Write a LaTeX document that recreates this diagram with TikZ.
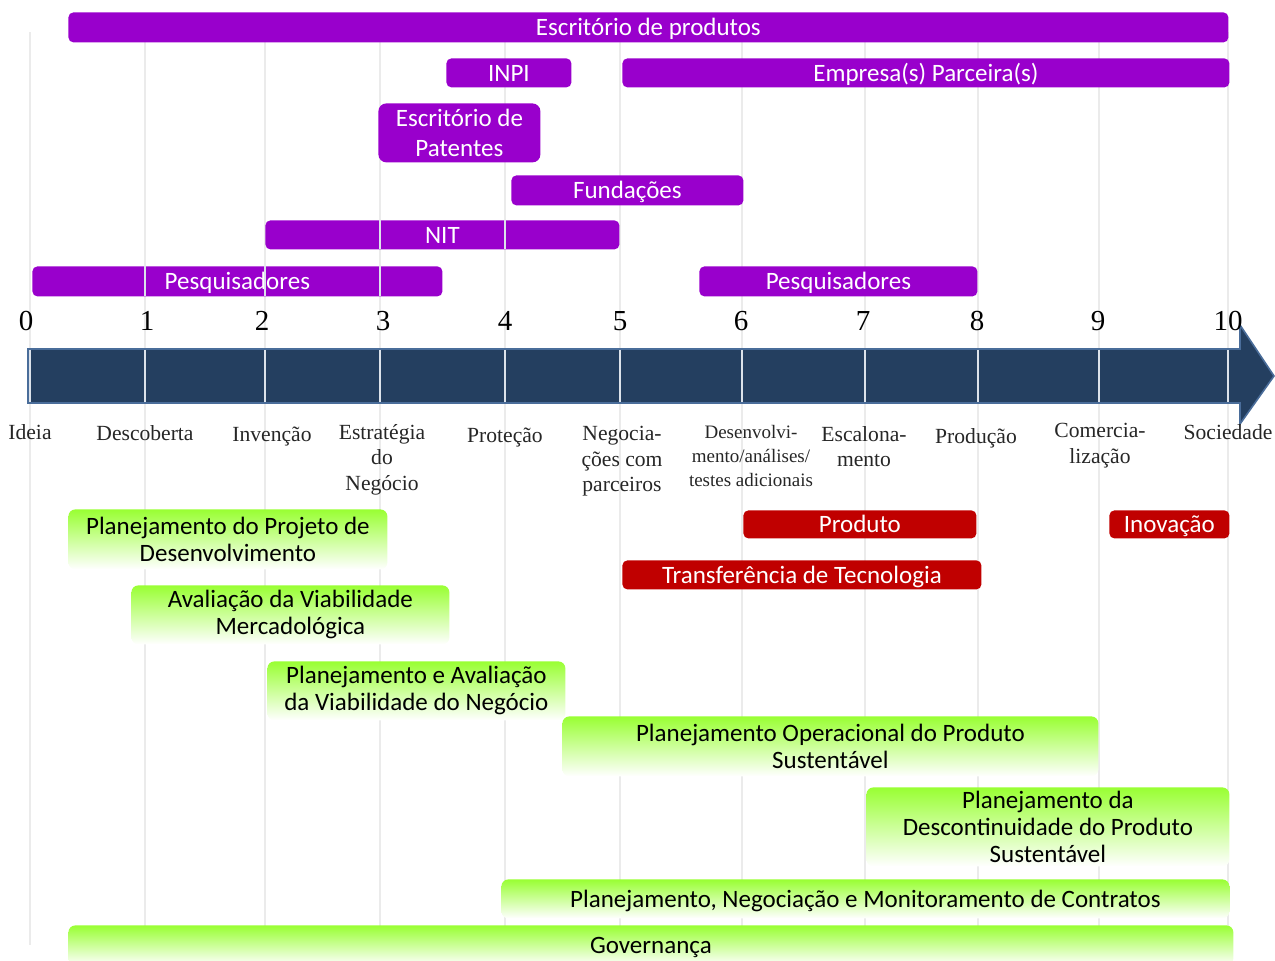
\documentclass[tikz,border=0pt]{standalone}
\usepackage{fontspec}
\newfontfamily\boxfont{Carlito}
\newfontfamily\labfont{Liberation Serif}
\definecolor{actor}{HTML}{9900CC}
\definecolor{result}{HTML}{C00000}
\definecolor{plan}{HTML}{99FF33}
\definecolor{axis}{HTML}{243F60}
\definecolor{axisedge}{HTML}{4A6D9A}
\definecolor{gridc}{HTML}{EBEBEB}
\definecolor{gridlight}{HTML}{DCE2EA}
\definecolor{labc}{HTML}{262626}
\tikzset{
  box/.style={anchor=north west, inner sep=0pt, align=center,
    font={\boxfont\fontsize{12.5}{13.5}\selectfont}},
  oneline/.style={text height=11pt, text depth=2.5pt},
  actorbox/.style={box, fill=actor, text=white, rounded corners=2.5pt},
  resultbox/.style={box, oneline, fill=result, text=white, rounded corners=2.5pt},
  planbox/.style={box, top color=plan, middle color=plan!78!white,
    bottom color=white, text=black, rounded corners=3.5pt},
  tick/.style={font={\labfont\fontsize{14.5}{14.5}\selectfont}, text=black, inner sep=0pt},
  stage/.style={font={\labfont\fontsize{10.8}{12.75}\selectfont}, text=labc,
    align=center, anchor=north, inner sep=0pt},
  smallstage/.style={stage, font={\labfont\fontsize{9.5}{12}\selectfont}},
  gridline/.style={draw=gridc, line width=0.75pt},
  overline/.style={draw=gridlight, line width=0.7pt},
}
\begin{document}
\begin{tikzpicture}[x=0.5pt, y=-0.5pt]
\useasboundingbox (0,0) rectangle (1275,961);

% vertical grid of the time scale
\foreach \x in {30,145,265,380,505,620,742,865,978,1099,1228}
  \draw[gridline] (\x,32) -- (\x,945);

% time axis arrow
\filldraw[fill=axis, draw=axisedge, line width=0.8pt]
  (28,349) -- (1240,349) -- (1240,325) -- (1274,376) -- (1240,424)
  -- (1240,403) -- (28,403) -- cycle;
\foreach \x in {30,145,265,380,505,620,742,865,978,1099,1228}
  \draw[overline] (\x,350) -- (\x,402);

% actors
\node[actorbox, oneline, minimum width=580pt, minimum height=15pt] (escprod) at (68,12) {Escritório de produtos};
\node[actorbox, oneline, minimum width=62.5pt, minimum height=14.5pt] (inpi) at (446,58) {INPI};
\node[actorbox, oneline, minimum width=303.5pt, minimum height=14.5pt] (empresa) at (622,58) {Empresa(s) Parceira(s)};
\node[actorbox, minimum width=81pt, minimum height=29.5pt, rounded corners=4pt,
  font={\boxfont\fontsize{12.5}{15}\selectfont}] (patentes) at (378,103) {Escritório de\\Patentes};
\node[actorbox, oneline, minimum width=116pt, minimum height=15pt] (fundacoes) at (511,175) {Fundações};
\node[actorbox, oneline, minimum width=177pt, minimum height=14.5pt] (nit) at (265,220) {NIT};
\node[actorbox, oneline, minimum width=205pt, minimum height=15pt] (pesqA) at (32,266) {Pesquisadores};
\node[actorbox, oneline, minimum width=139pt, minimum height=15pt] (pesqB) at (699,266) {Pesquisadores};
\foreach \x in {380,505}
  \draw[overline] (\x,220) -- (\x,249);
\foreach \x in {145,265,380}
  \draw[overline] (\x,266) -- (\x,296);

% results
\node[resultbox, minimum width=116.5pt, minimum height=14pt] (produto) at (743,510) {Produto};
\node[resultbox, minimum width=60pt, minimum height=14pt] (inovacao) at (1109,510) {Inovação};
\node[resultbox, minimum width=179.5pt, minimum height=14.5pt] (transf) at (622,560) {Transferência\ de Tecnologia};

% planning activities
\node[planbox, minimum width=159.5pt, minimum height=30pt] (pdev) at (68,509) {Planejamento do Projeto de\\Desenvolvimento};
\node[planbox, minimum width=159pt, minimum height=29.5pt] (pmerc) at (131,585) {Avaliação da Viabilidade\\Mercadológica};
\node[planbox, minimum width=149pt, minimum height=29.5pt] (pneg) at (267,661) {Planejamento e Avaliação\\da Viabilidade do Negócio};
\node[planbox, minimum width=268pt, minimum height=30pt] (poper) at (562,716) {Planejamento Operacional do Produto\\Sustentável};
\node[planbox, minimum width=181.5pt, minimum height=39.5pt] (pdesc) at (866,787) {Planejamento da\\Descontinuidade do Produto\\Sustentável};
\node[planbox, oneline, minimum width=364pt, minimum height=19.5pt] (pcontr) at (501,879) {Planejamento, Negociação e Monitoramento de Contratos};
\node[planbox, oneline, minimum width=582.5pt, minimum height=20pt] (gov) at (68,925) {Governança};

% scale numbers
\node[tick] (n0) at (26,321) {0};
\node[tick] (n1) at (147,321) {1};
\node[tick] (n2) at (262,321) {2};
\node[tick] (n3) at (383,321) {3};
\node[tick] (n4) at (505,321) {4};
\node[tick] (n5) at (620,321) {5};
\node[tick] (n6) at (741,321) {6};
\node[tick] (n7) at (863,321) {7};
\node[tick] (n8) at (977,321) {8};
\node[tick] (n9) at (1098,321) {9};
\node[tick] (n10) at (1228,321) {10};

% stages
\node[stage] (s0) at (30,424) {Ideia};
\node[stage] (s1) at (145,425) {Descoberta};
\node[stage] (s2) at (272,427) {Invenção};
\node[stage] (s3) at (382,424) {Estratégia\\do\\Negócio};
\node[stage] (s4) at (505,428) {Proteção};
\node[stage] (s5) at (622,426) {Negocia-\\ções com\\parceiros};
\node[smallstage] (s6) at (751,425) {Desenvolvi-\\mento/análises/\\testes adicionais};
\node[stage] (s7) at (864,426) {Escalona-\\mento};
\node[stage] (s8) at (976,428) {Produção};
\node[stage] (s9) at (1100,423) {Comercia-\\lização};
\node[stage] (s10) at (1228,424) {Sociedade};
\end{tikzpicture}
\end{document}
